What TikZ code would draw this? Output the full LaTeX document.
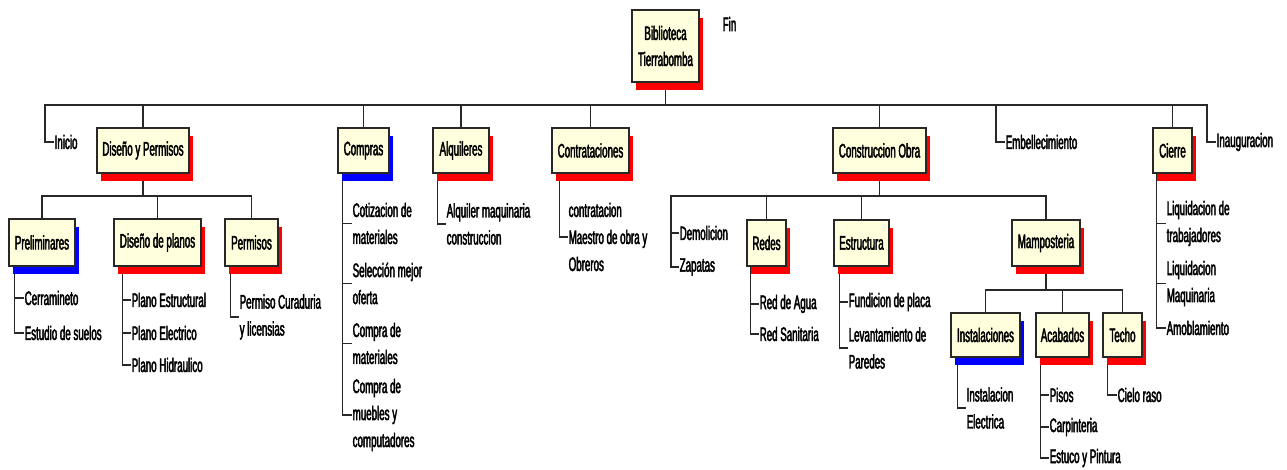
\documentclass[tikz,border=0pt]{standalone}
\usepackage{fontspec}
\setmainfont{Liberation Sans}[FakeStretch=0.5, FakeBold=2.2]
\usetikzlibrary{shadows,backgrounds}
\definecolor{boxfill}{RGB}{255,255,221}
\definecolor{linegray}{RGB}{40,40,40}
\begin{document}
\begin{tikzpicture}[x=1pt,y=-1pt,
  txt/.style={font=\fontsize{19.5}{27}\selectfont},
  wbs/.style={draw=linegray, line width=1.3pt, fill=boxfill, inner sep=0pt,
    font=\fontsize{19.5}{26}\selectfont, align=center},
  sz/.style 2 args={minimum width=#1pt, minimum height=#2pt},
  redbox/.style={wbs, drop shadow={shadow xshift=4pt, shadow yshift=-8pt, fill=red, opacity=1}},
  bluebox/.style={wbs, drop shadow={shadow xshift=4pt, shadow yshift=-8pt, fill=blue, opacity=1}},
  leaf/.style={txt, anchor=west, inner xsep=0.5pt, inner ysep=0pt, align=left},
  link/.style={draw=linegray, line width=1.1pt}]
\useasboundingbox (0,0) rectangle (1287,470);

% ---- root and first level
\node[redbox, sz={67}{72}] (root) at (665.5,46) {Biblioteca\\Tierrabomba};
\node[leaf] (fin) at (722,24) {Fin};

\node[leaf] (ini) at (54,142) {Inicio};
\node[redbox, sz={92}{45}] (dp) at (143,150.5) {Diseño y Permisos};
\node[bluebox, sz={51}{45}] (com) at (363.5,150.5) {Compras};
\node[redbox, sz={56}{45}] (alq) at (461,150.5) {Alquileres};
\node[redbox, sz={77}{45}] (con) at (590.5,150.5) {Contrataciones};
\node[redbox, sz={93}{45}] (co) at (879.5,150.5) {Construccion Obra};
\node[leaf] (emb) at (1005,142) {Embellecimiento};
\node[redbox, sz={39}{45}] (cie) at (1172.5,150.5) {Cierre};
\node[leaf] (inau) at (1216,142) {Inauguracion};

% ---- Diseño y Permisos
\node[bluebox, sz={66}{47}] (pre) at (42,242.5) {Preliminares};
\node[redbox, sz={87}{47}] (pla) at (157.5,242.5) {Diseño de planos};
\node[redbox, sz={53}{47}] (per) at (251.5,242.5) {Permisos};

\node[leaf] (cer) at (24,298) {Cerramineto};
\node[leaf] (est) at (24,333) {Estudio de suelos};
\node[leaf] (pe) at (131,300) {Plano Estructural};
\node[leaf] (pel) at (131,333) {Plano Electrico};
\node[leaf] (ph) at (131,365) {Plano Hidraulico};
\node[leaf] (pcl) at (239,317) {Permiso Curaduria\\y licensias};

% ---- Compras, Alquileres, Contrataciones
\node[leaf] (c1) at (352,223.5) {Cotizacion de\\materiales};
\node[leaf] (c2) at (352,283.5) {Selección mejor\\oferta};
\node[leaf] (c3) at (352,343.5) {Compra de\\materiales};
\node[leaf] (c4) at (352,415) {Compra de\\muebles y\\computadores};
\node[leaf] (am) at (446,224) {Alquiler maquinaria\\construccion};
\node[leaf] (mo) at (568,237) {contratacion\\Maestro de obra y\\Obreros};

% ---- Construccion Obra
\node[leaf] (dem) at (679,233) {Demolicion};
\node[leaf] (zap) at (679,267) {Zapatas};
\node[redbox, sz={39}{46}] (red) at (766.5,243) {Redes};
\node[redbox, sz={55}{46}] (estr) at (861.5,243) {Estructura};
\node[redbox, sz={68}{46}] (mam) at (1046,243) {Mamposteria};

\node[leaf] (ra) at (759,304) {Red de Agua};
\node[leaf] (rs) at (759,334) {Red Sanitaria};
\node[leaf] (fp) at (848,302) {Fundicion de placa};
\node[leaf] (lp) at (848,348) {Levantamiento de\\Paredes};

\node[bluebox, sz={69}{44}] (ins) at (985.5,335) {Instalaciones};
\node[redbox, sz={53}{44}] (aca) at (1062.5,335) {Acabados};
\node[redbox, sz={39}{44}] (tec) at (1122.5,335) {Techo};

\node[leaf] (ie) at (966,408) {Instalacion\\Electrica};
\node[leaf] (pis) at (1049,395) {Pisos};
\node[leaf] (car) at (1049,427) {Carpinteria};
\node[leaf] (eyp) at (1049,458) {Estuco y Pintura};
\node[leaf] (cr) at (1117,395) {Cielo raso};

% ---- Cierre
\node[leaf] (lt) at (1166,223.5) {Liquidacion de\\trabajadores};
\node[leaf] (lm) at (1166,283.5) {Liquidacion\\Maquinaria};
\node[leaf] (amo) at (1166,328) {Amoblamiento};

% ---- connectors
\coordinate (tb) at (0,105);
\coordinate (b2) at (0,196);
\coordinate (b3) at (0,290);
\begin{scope}[on background layer]
\draw[link] (root.south) |- ([xshift=-9pt]ini.west |- tb) |- (ini.west);
\draw[link] (root.south) |- ([xshift=-9pt]inau.west |- tb) |- (inau.west);
\draw[link] (root.south) |- ([xshift=-9pt]emb.west |- tb) |- (emb.west);
\foreach \c in {dp,com,alq,con,co,cie}
  \draw[link] (root.south) |- (tb -| \c.north) -- (\c.north);

\foreach \c in {pre,pla,per}
  \draw[link] (dp.south) |- (b2 -| \c.north) -- (\c.north);
\draw[link] ([xshift=6pt]pre.south west) |- (cer.west);
\draw[link] ([xshift=6pt]pre.south west) |- (est.west);
\draw[link] ([xshift=9pt]pla.south west) |- (pe.west);
\draw[link] ([xshift=9pt]pla.south west) |- (pel.west);
\draw[link] ([xshift=9pt]pla.south west) |- (ph.west);
\draw[link] ([xshift=6pt]per.south west) |- (pcl.west);

\foreach \c in {c1,c2,c3,c4}
  \draw[link] ([xshift=5pt]com.south west) |- (\c.west);
\draw[link] ([xshift=5pt]alq.south west) |- (am.west);
\draw[link] ([xshift=8pt]con.south west) |- (mo.west);

\draw[link] (co.south) |- ([xshift=-8pt]dem.west |- b2) |- (dem.west);
\draw[link] ([xshift=-8pt]dem.west |- b2) |- (zap.west);
\foreach \c in {red,estr,mam}
  \draw[link] (co.south) |- (b2 -| \c.north) -- (\c.north);
\draw[link] ([xshift=4pt]red.south west) |- (ra.west);
\draw[link] ([xshift=4pt]red.south west) |- (rs.west);
\draw[link] ([xshift=6pt]estr.south west) |- (fp.west);
\draw[link] ([xshift=6pt]estr.south west) |- (lp.west);

\foreach \c in {ins,aca,tec}
  \draw[link] (mam.south) |- (b3 -| \c.north) -- (\c.north);
\draw[link] ([xshift=7pt]ins.south west) |- (ie.west);
\foreach \c in {pis,car,eyp}
  \draw[link] ([xshift=5pt]aca.south west) |- (\c.west);
\draw[link] ([xshift=5pt]tec.south west) |- (cr.west);

\foreach \c in {lt,lm,amo}
  \draw[link] ([xshift=4pt]cie.south west) |- (\c.west);
\end{scope}
\end{tikzpicture}
\end{document}
